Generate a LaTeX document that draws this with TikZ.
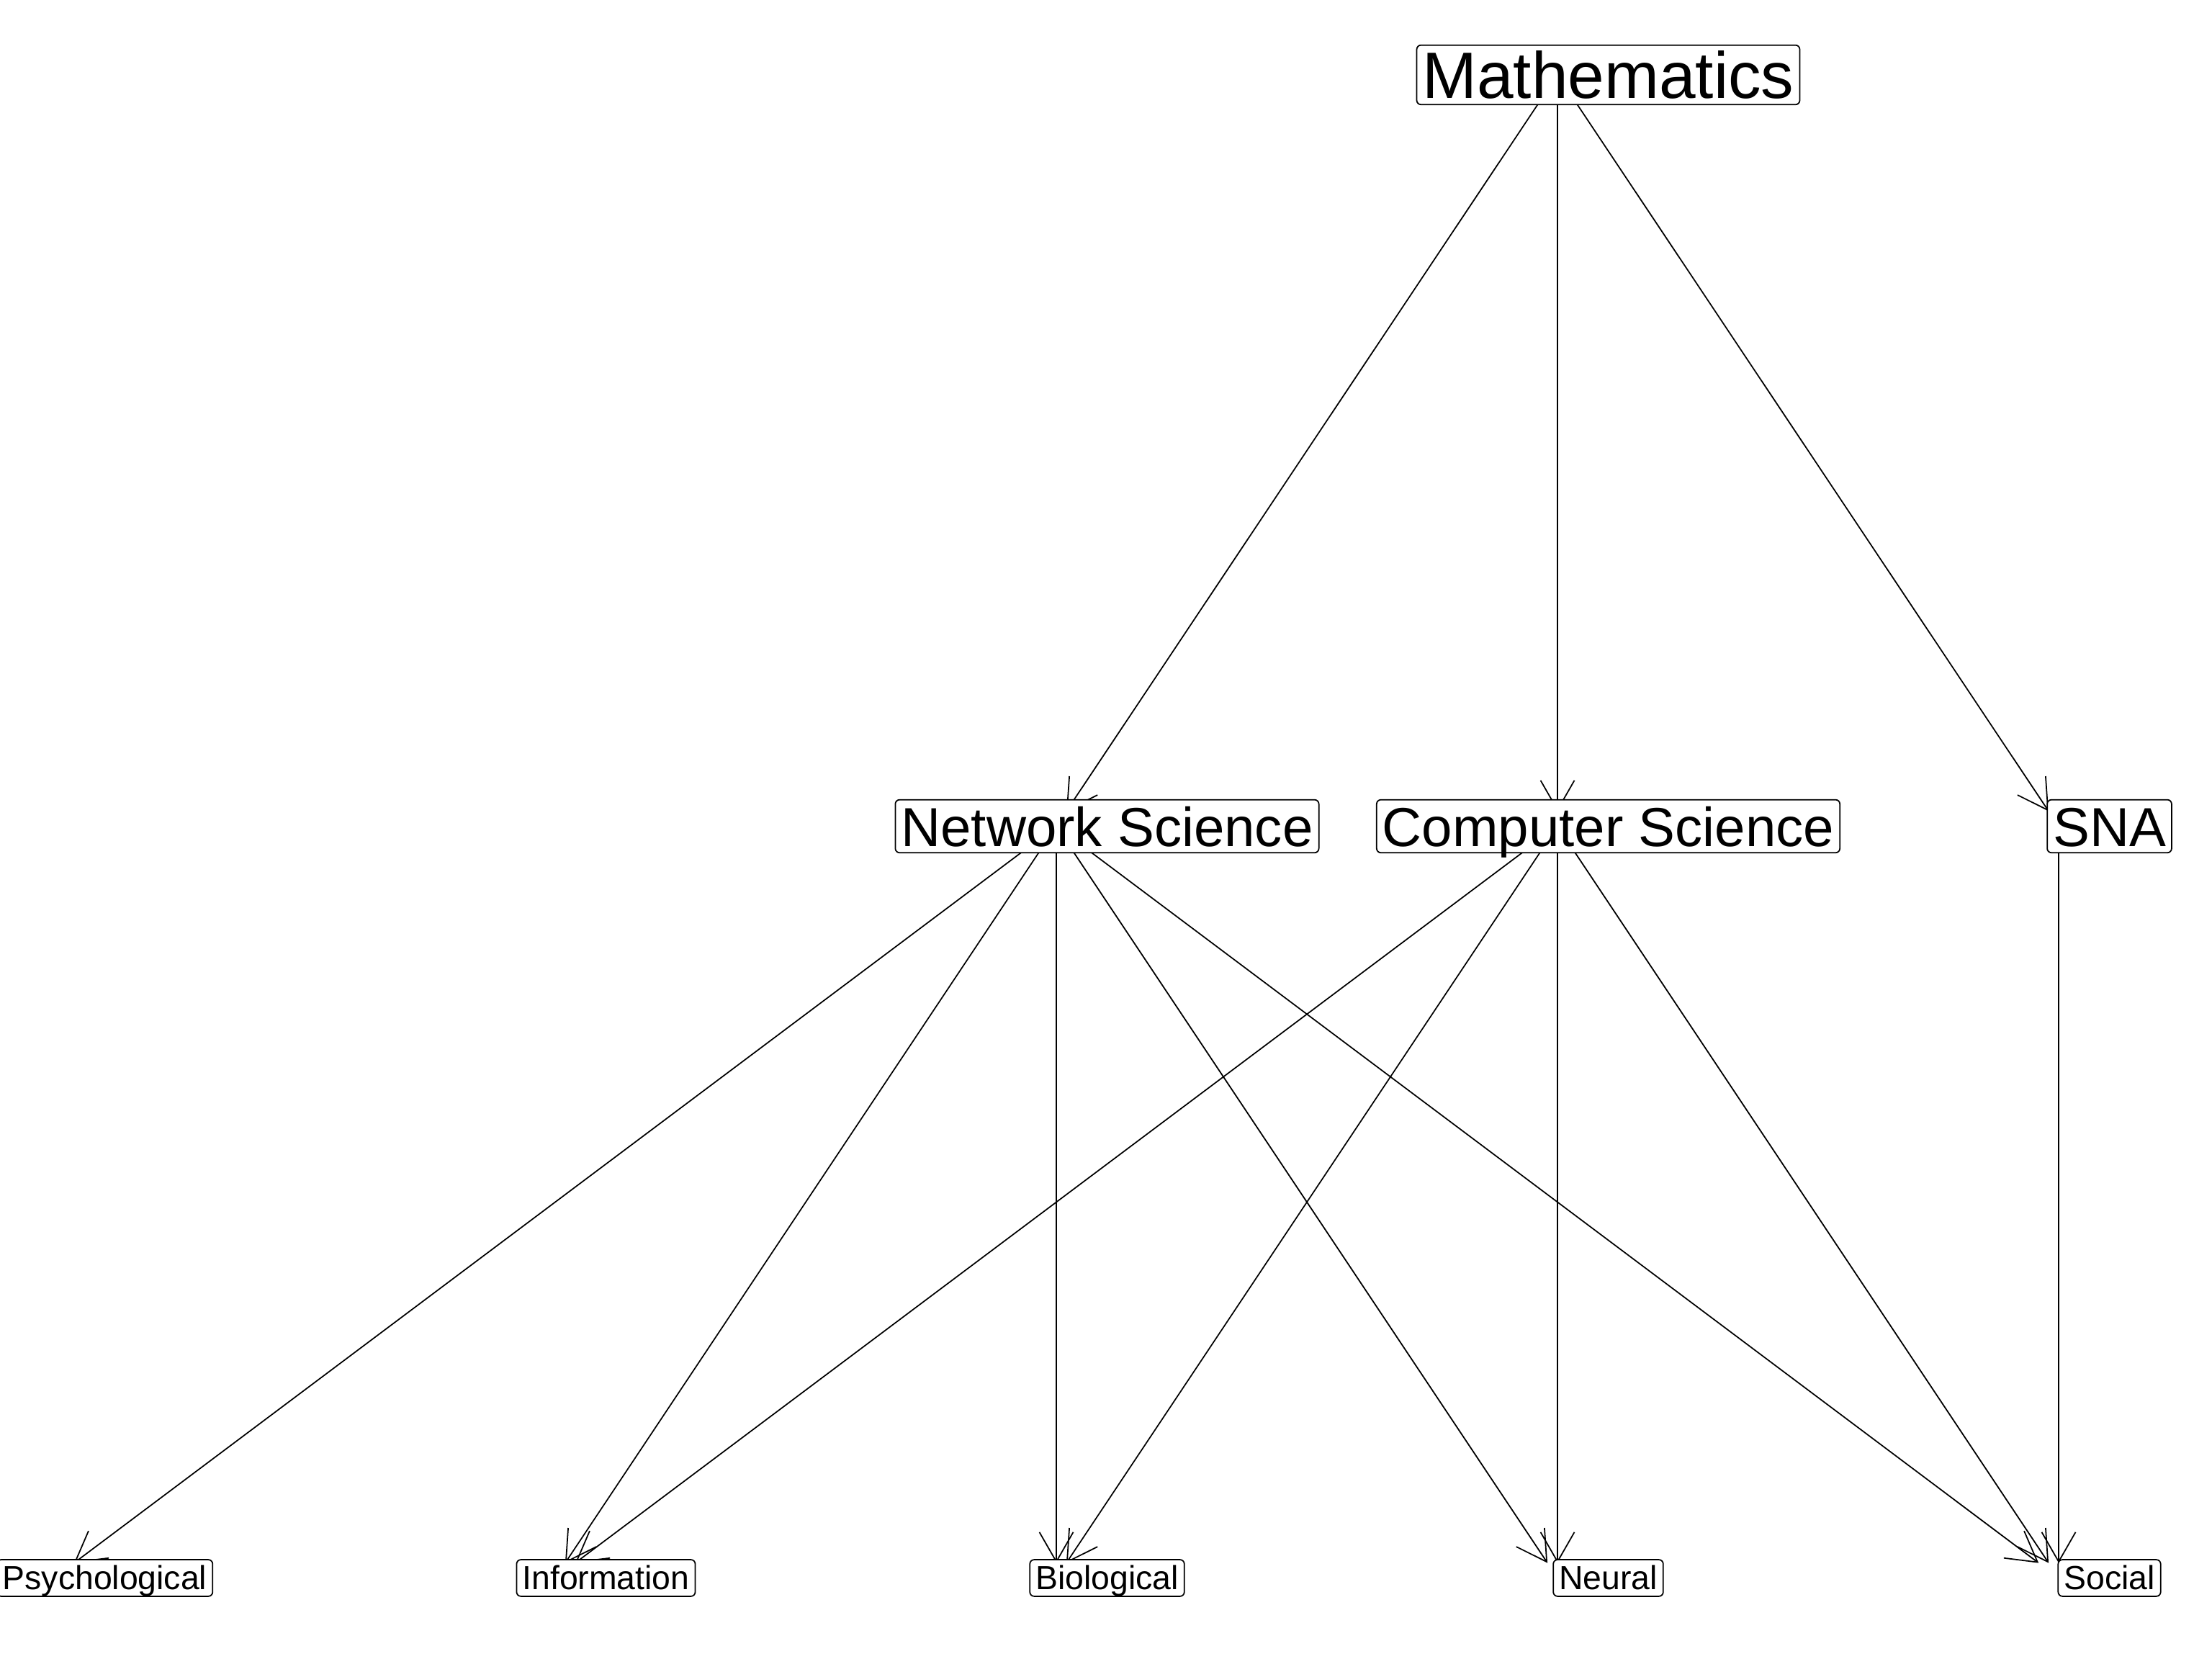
\documentclass[tikz,border=0pt]{standalone}
\usepackage{fontspec}
\setmainfont{Liberation Sans}
\usetikzlibrary{arrows.meta,calc}

\begin{document}
\begin{tikzpicture}[
    line width = 0.5pt,
    >={Straight Barb[length=0.41cm, width=0.47cm]},
    lbl/.style = {
      draw,
      fill = white,
      rectangle,
      rounded corners = 0.06cm,
      inner xsep = 0.08cm,
      inner ysep = 0.09cm,
      text depth = 0pt
    },
    toplbl/.style = {lbl, font = \fontsize{25.9}{30}\selectfont, text height = 0.646cm},
    midlbl/.style = {lbl, font = \fontsize{21.7}{26}\selectfont, text height = 0.556cm},
    lowlbl/.style = {lbl, font = \fontsize{13.2}{15}\selectfont, text height = 0.328cm}
  ]
  \useasboundingbox (0,0) rectangle (30.72,23.04);

  % vertices
  \coordinate (math) at (21.63,22.00);

  \coordinate (ns)  at (14.67,11.565);
  \coordinate (cs)  at (21.63,11.565);
  \coordinate (sna) at (28.59,11.565);

  \coordinate (psy)  at (0.75,1.125);
  \coordinate (info) at (7.71,1.125);
  \coordinate (bio)  at (14.67,1.125);
  \coordinate (neu)  at (21.63,1.125);
  \coordinate (soc)  at (28.59,1.125);

  % edges
  \draw[->] (math) -- ($(math)!0.98!(ns)$);
  \draw[->] (math) -- ($(math)!0.98!(cs)$);
  \draw[->] (math) -- ($(math)!0.98!(sna)$);

  \draw[->] (ns) -- ($(ns)!0.98!(psy)$);
  \draw[->] (ns) -- ($(ns)!0.98!(info)$);
  \draw[->] (ns) -- ($(ns)!0.98!(bio)$);
  \draw[->] (ns) -- ($(ns)!0.98!(neu)$);
  \draw[->] (ns) -- ($(ns)!0.98!(soc)$);

  \draw[->] (cs) -- ($(cs)!0.98!(info)$);
  \draw[->] (cs) -- ($(cs)!0.98!(bio)$);
  \draw[->] (cs) -- ($(cs)!0.98!(neu)$);
  \draw[->] (cs) -- ($(cs)!0.98!(soc)$);

  \draw[->] (sna) -- ($(sna)!0.98!(soc)$);

  % labels
  \node[toplbl] (math-l) at ([xshift=0.705cm]math) {Mathematics};

  \node[midlbl] (ns-l)  at ([xshift=0.705cm]ns)  {Network Science};
  \node[midlbl] (cs-l)  at ([xshift=0.705cm]cs)  {Computer Science};
  \node[midlbl] (sna-l) at ([xshift=0.705cm]sna) {SNA};

  \node[lowlbl] (psy-l)  at ([xshift=0.705cm]psy)  {Psychological};
  \node[lowlbl] (info-l) at ([xshift=0.705cm]info) {Information};
  \node[lowlbl] (bio-l)  at ([xshift=0.705cm]bio)  {Biological};
  \node[lowlbl] (neu-l)  at ([xshift=0.705cm]neu)  {Neural};
  \node[lowlbl] (soc-l)  at ([xshift=0.705cm]soc)  {Social};
\end{tikzpicture}
\end{document}
